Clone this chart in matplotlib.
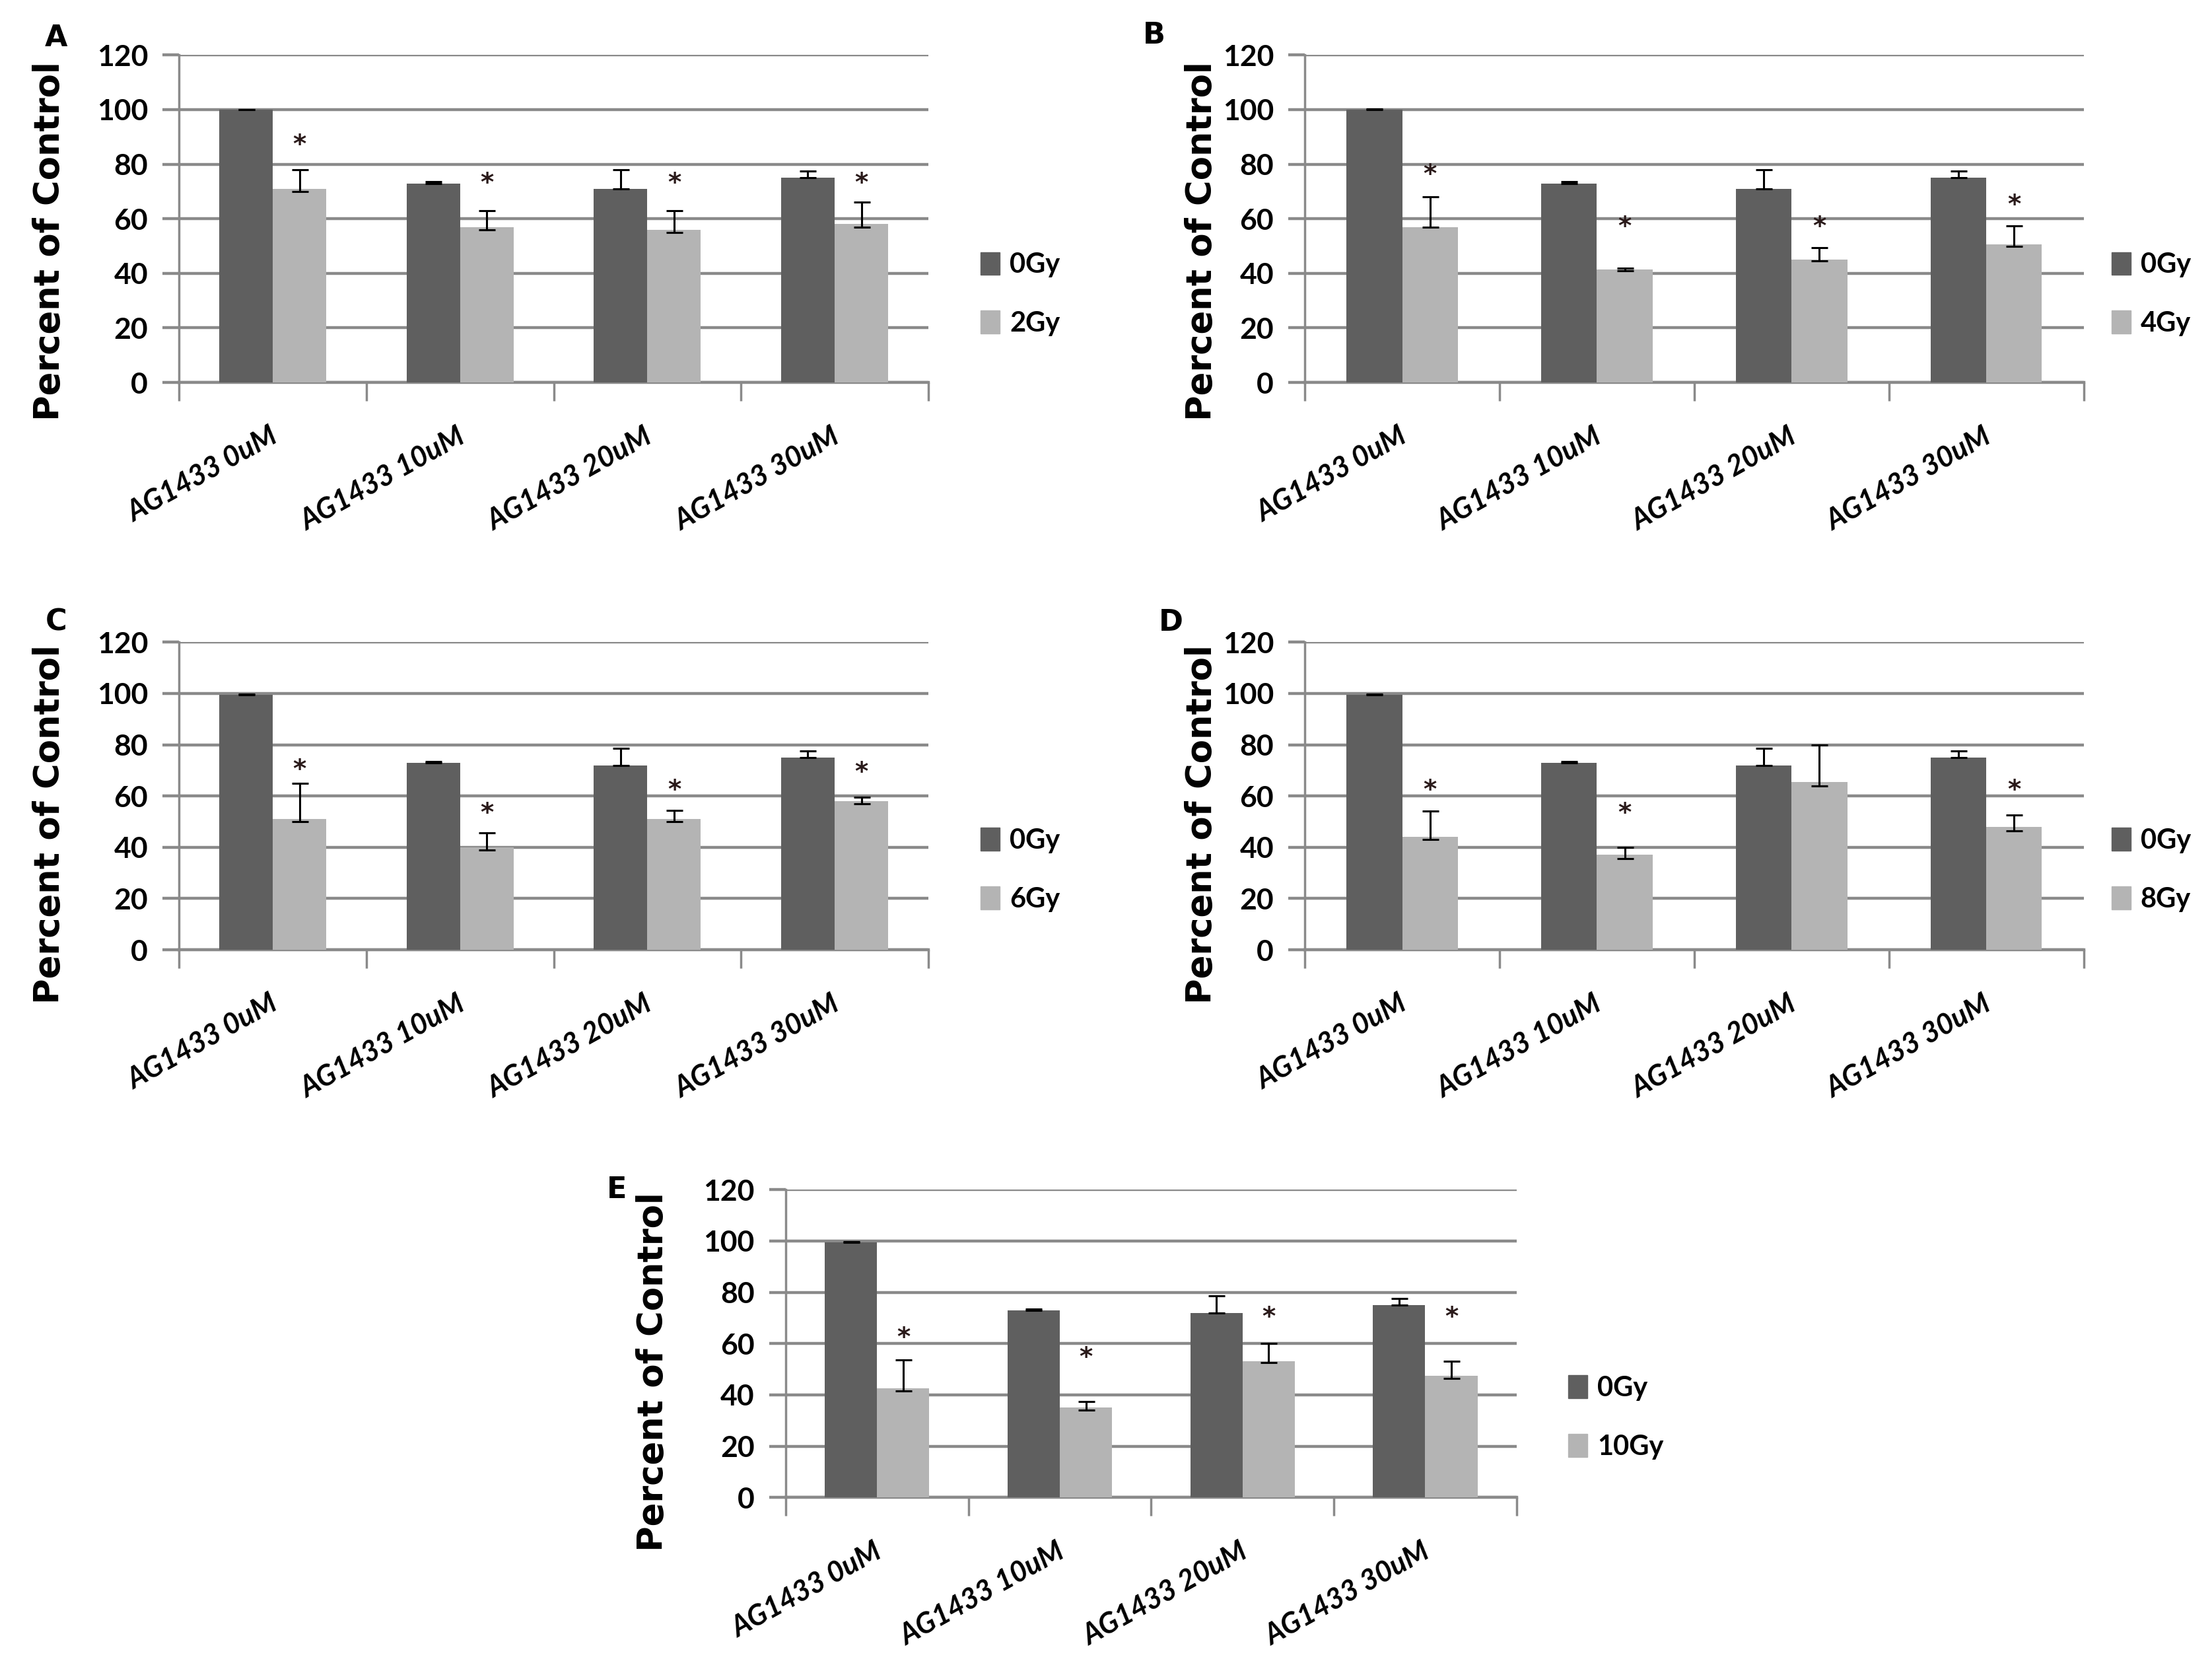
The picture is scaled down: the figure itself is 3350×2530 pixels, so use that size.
import numpy as np
import matplotlib.pyplot as plt
from matplotlib.patches import Patch

categories = ["AG1433 0uM", "AG1433 10uM", "AG1433 20uM", "AG1433 30uM"]
doses = ["2Gy", "4Gy", "6Gy", "8Gy", "10Gy"]
letters = ["A", "B", "C", "D", "E"]

# 0Gy control (same experiment in every panel)
ctrl = [[100, 73, 71, 75],
        [100, 73, 71, 75],
        [99.5, 73, 72, 75],
        [99.5, 73, 72, 75],
        [99.5, 73, 72, 75]]
ctrl_err = [[0, 0.5, 7, 2.5],
            [0.3, 0.5, 7, 2.5],
            [0.3, 0.5, 6.5, 2.5],
            [0.3, 0.5, 6.5, 2.5],
            [0.3, 0.5, 6.5, 2.5]]

# irradiated
irr = [[71, 57, 56, 58],
       [57, 41.5, 45, 50.5],
       [51, 40, 51, 58],
       [44, 37, 65.5, 48],
       [42.5, 35, 53, 47.5]]
irr_up = [[7, 6, 7, 8],
          [11, 0.5, 4.5, 7],
          [14, 5.5, 3.5, 1.5],
          [10, 3, 14.5, 4.5],
          [11, 2.5, 7, 5.5]]
irr_lo = [[1, 1, 1, 1],
          [0, 0.5, 0.5, 0.5],
          [1, 1, 1, 1],
          [1, 1.5, 1.5, 1.5],
          [1, 1, 0.5, 1]]

# significance stars (y position, None = no star)
stars = [[87, 73, 73, 73],
         [76, 57, 57, 65],
         [70, 53, 62, 69],
         [62, 53, None, 62],
         [62, 54.5, 70, 70]]

dark = "#5f5f5f"
light = "#b4b4b4"
gridc = "#8a8a8a"

W, H = 1568.0, 1184.0
# axes boxes in reference pixel coords (left, right, top, bottom)
boxes = [(127, 658, 39, 271), (925, 1477, 39, 271),
         (127, 658, 455, 673), (925, 1477, 455, 673),
         (557, 1075, 843, 1061)]
ylab_pos = [(35, 171), (852, 171), (35, 584), (852, 584), (463, 972)]
letter_pos = [(40, 27), (818, 25), (40, 441), (830, 441), (437, 843)]
legend_x = [1.07, 1.036, 1.07, 1.036, 1.071]
legend_y = [0.27, 0.27, 0.26, 0.26, 0.26]

fig = plt.figure(figsize=(33.5, 25.3), dpi=100)

x = np.arange(len(categories))
bw = 0.286

for i in range(5):
    l, r, t, b = boxes[i]
    ax = fig.add_axes([l / W, 1 - b / H, (r - l) / W, (b - t) / H])

    ax.bar(x - bw / 2, ctrl[i], bw, color=dark, zorder=3, label="0Gy")
    ax.bar(x + bw / 2, irr[i], bw, color=light, zorder=3, label=doses[i])
    ax.errorbar(x - bw / 2, ctrl[i], yerr=[np.zeros(4), ctrl_err[i]], fmt="none",
                ecolor="black", elinewidth=2.2, capsize=9, capthick=2.2, zorder=4)
    ax.errorbar(x + bw / 2, irr[i], yerr=[irr_lo[i], irr_up[i]], fmt="none",
                ecolor="black", elinewidth=2.2, capsize=9, capthick=2.2, zorder=4)

    for j, s in enumerate(stars[i]):
        if s is not None:
            ax.text(x[j] + bw / 2, s, "*", ha="center", va="center",
                    fontsize=28, fontweight="bold", color="#2a1a1a", zorder=5)

    ax.set_xlim(-0.5, 3.5)
    ax.set_ylim(0, 120)
    ax.set_yticks(np.arange(0, 121, 20))
    ax.yaxis.grid(True, color=gridc, linewidth=3.2, zorder=0)
    ax.set_axisbelow(True)

    ax.set_xticks(x - 0.02)
    ax.set_xticklabels(categories, rotation=29, ha="right", rotation_mode="anchor",
                       fontsize=31, fontweight="bold", fontstyle="italic",
                       family="Lato")
    ax.set_xticks(np.arange(-0.5, 4, 1), minor=True)
    ax.tick_params(axis="x", which="major", length=0, pad=44)
    ax.tick_params(axis="x", which="minor", length=20, width=2.5, color=gridc,
                   direction="out")
    ax.tick_params(axis="y", length=18, width=3.2, color=gridc, direction="out",
                   pad=16)
    for lab in ax.get_yticklabels():
        lab.set_fontsize(32)
        lab.set_fontweight("bold")
        lab.set_family("Lato")

    for side in ["top", "right"]:
        ax.spines[side].set_visible(False)
    ax.spines["left"].set_color(gridc)
    ax.spines["left"].set_linewidth(2.5)
    ax.spines["bottom"].set_color(gridc)
    ax.spines["bottom"].set_linewidth(3.2)

    handles = [Patch(color=dark), Patch(color=light)]
    ax.legend(handles, ["0Gy", doses[i]], loc="center left",
              bbox_to_anchor=(legend_x[i], legend_y[i]), frameon=False,
              borderpad=0, borderaxespad=0, handlelength=0.7, handleheight=0.9,
              handletextpad=0.35, labelspacing=1.2,
              prop={"family": "Lato", "weight": "bold", "size": 30})

    px, py = ylab_pos[i]
    fig.text(px / W, 1 - py / H, "Percent of Control", rotation=90,
             ha="center", va="center", fontsize=38, fontweight="bold",
             family="DejaVu Sans")
    lx, ly = letter_pos[i]
    fig.text(lx / W, 1 - ly / H, letters[i], ha="center", va="center",
             fontsize=32, fontweight="bold", family="DejaVu Sans")

fig.savefig("out.png", dpi=100)
